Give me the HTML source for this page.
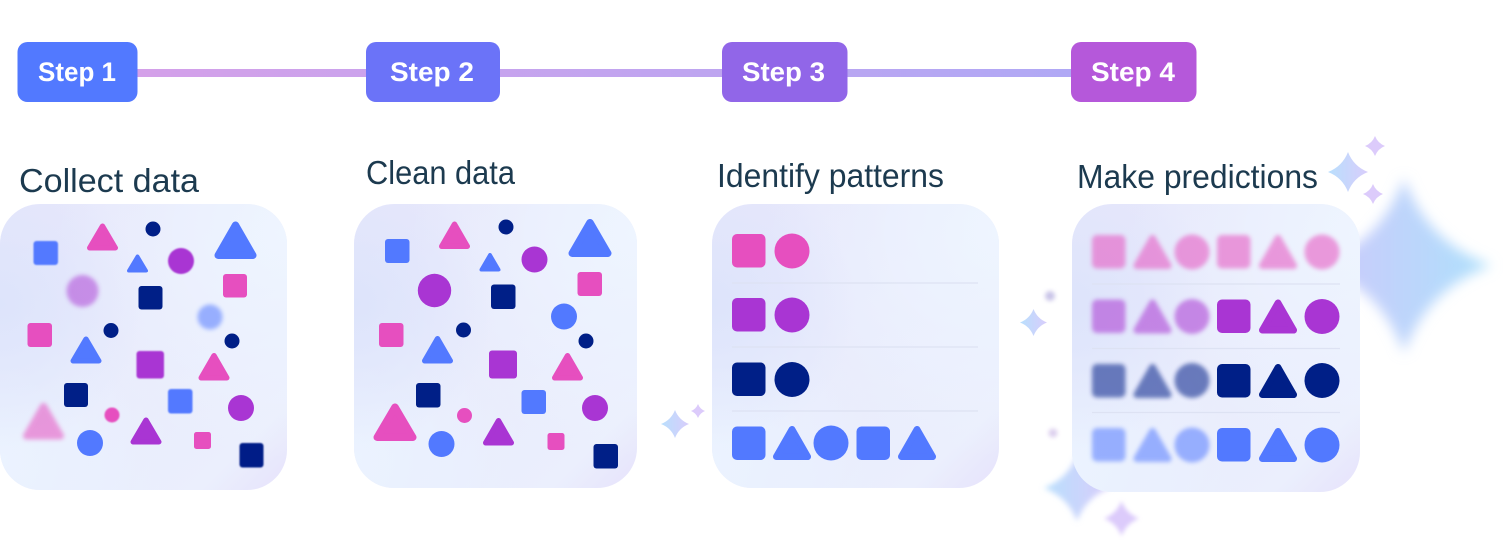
<!DOCTYPE html>
<html><head><meta charset="utf-8">
<style>
html,body{margin:0;padding:0;background:#fff;width:1504px;height:553px;overflow:hidden}
svg{display:block}
.pk{fill:#e64fbf;color:#e64fbf}.pu{fill:#a935d3;color:#a935d3}.nv{fill:#001f87;color:#001f87}.bl{fill:#5279ff;color:#5279ff}
.st{font:700 27px "Liberation Sans",sans-serif;fill:#fff}
.hd{font:400 33.500px "Liberation Sans",sans-serif;fill:#1c3a4f}
.ln{stroke:#dde2f3;stroke-width:1.2}
</style></head><body>
<svg width="1504" height="553" viewBox="0 0 1504 553" xmlns="http://www.w3.org/2000/svg">
<defs>
<symbol id="t" viewBox="0 0 40 36" preserveAspectRatio="none"><polygon points="20,3.500 36.500,32.500 3.500,32.500" fill="currentColor" stroke="currentColor" stroke-width="7" stroke-linejoin="round"/></symbol>
<symbol id="s" viewBox="-1 -1 2 2" overflow="visible"><path d="M0-1Q.28-.28 1 0Q.28.28 0 1Q-.28.28-1 0Q-.28-.28 0-1Z" fill="url(#sg)"/></symbol>
<symbol id="s2" viewBox="-1 -1 2 2" overflow="visible"><path d="M0-1Q.28-.28 1 0Q.28.28 0 1Q-.28.28-1 0Q-.28-.28 0-1Z" fill="#dccbfb"/></symbol>
<symbol id="s3" viewBox="-1 -1 2 2" overflow="visible"><path d="M0-1Q.26-.26 1 0Q.26.26 0 1Q-.26.26-1 0Q-.26-.26 0-1Z" fill="url(#sb)"/></symbol>
<linearGradient id="sg" x1="0" y1="0" x2="1" y2="0"><stop offset="0" stop-color="#b9dffd"/><stop offset="1" stop-color="#d8cdfb"/></linearGradient>
<linearGradient id="sb" x1="0" y1="0" x2="1" y2="0"><stop offset="0" stop-color="#cdc9fb"/><stop offset="1" stop-color="#aee0fc"/></linearGradient>
<linearGradient id="cg" x1="0" y1="0" x2="1" y2="1"><stop offset="0" stop-color="#e6e6fb"/><stop offset=".85" stop-color="#ebeffd"/><stop offset="1" stop-color="#e6e2fb"/></linearGradient>
<radialGradient id="tr" cx="1" cy="0.1" r=".8"><stop offset="0" stop-color="#eef5ff"/><stop offset="1" stop-color="#eef5ff" stop-opacity="0"/></radialGradient>
<radialGradient id="bl" cx="0" cy=".9" r=".6"><stop offset="0" stop-color="#ebf3ff"/><stop offset="1" stop-color="#ebf3ff" stop-opacity="0"/></radialGradient>
<radialGradient id="lf" cx="0" cy=".35" r=".5"><stop offset="0" stop-color="#dde4fb"/><stop offset="1" stop-color="#dde4fb" stop-opacity="0"/></radialGradient>
<linearGradient id="conn" gradientUnits="userSpaceOnUse" x1="137" y1="0" x2="1071" y2="0"><stop offset="0" stop-color="#d4a0e9"/><stop offset="1" stop-color="#b0a8f5"/></linearGradient>
<filter id="b1" x="-30%" y="-30%" width="160%" height="160%"><feGaussianBlur stdDeviation=".9"/></filter>
<filter id="b2" x="-40%" y="-40%" width="180%" height="180%"><feGaussianBlur stdDeviation="2"/></filter>
<filter id="b3" x="-40%" y="-40%" width="180%" height="180%"><feGaussianBlur stdDeviation="3"/></filter>
<filter id="b7" x="-40%" y="-40%" width="180%" height="180%"><feGaussianBlur stdDeviation="6.500"/></filter>
</defs>

<!-- connectors -->
<rect x="130" y="69" width="950" height="8" fill="url(#conn)"/>
<!-- steps -->
<rect x="17.500" y="42" width="120" height="60" rx="10" fill="#5279ff"/>
<rect x="366" y="42" width="134" height="60" rx="10" fill="#6b73f8"/>
<rect x="722" y="42" width="125.500" height="60" rx="10" fill="#9166e8"/>
<rect x="1071" y="42" width="125.500" height="60" rx="10" fill="#b558da"/>
<text class="st" x="38" y="81" textLength="78" lengthAdjust="spacingAndGlyphs">Step 1</text>
<text class="st" x="390" y="81" textLength="84" lengthAdjust="spacingAndGlyphs">Step 2</text>
<text class="st" x="742" y="81" textLength="83" lengthAdjust="spacingAndGlyphs">Step 3</text>
<text class="st" x="1091" y="81" textLength="84" lengthAdjust="spacingAndGlyphs">Step 4</text>
<!-- headings -->
<text class="hd" x="19" y="192" textLength="180" lengthAdjust="spacingAndGlyphs">Collect data</text>
<text class="hd" x="366" y="184" textLength="149" lengthAdjust="spacingAndGlyphs">Clean data</text>
<text class="hd" x="717" y="187" textLength="227" lengthAdjust="spacingAndGlyphs">Identify patterns</text>
<text class="hd" x="1077" y="188" textLength="241" lengthAdjust="spacingAndGlyphs">Make predictions</text>

<!-- sparkles behind -->
<use href="#s3" x="1312" y="178" width="184" height="175" filter="url(#b7)"/>
<use href="#s" x="1328" y="152" width="40" height="40"/>
<use href="#s2" x="1365" y="135" width="20" height="22"/>
<use href="#s2" x="1363" y="183" width="20" height="22"/>
<use href="#s" x="1020" y="309" width="27" height="27"/>
<use href="#s" x="661" y="410" width="28" height="28"/>
<use href="#s2" x="691" y="404" width="14" height="14"/>
<circle cx="1050" cy="296" r="5" fill="#c9c4e8" filter="url(#b2)"/>
<circle cx="1053" cy="433" r="4.500" fill="#dccfee" filter="url(#b2)"/>
<use href="#s" x="1044" y="455" width="66" height="66" filter="url(#b3)"/>
<use href="#s2" x="1104" y="501" width="35" height="35" filter="url(#b2)"/>

<!-- card backgrounds -->
<g>
<rect x="0" y="204" width="287" height="286" rx="40" fill="url(#cg)"/><rect x="0" y="204" width="287" height="286" rx="40" fill="url(#tr)"/><rect x="0" y="204" width="287" height="286" rx="40" fill="url(#bl)"/><rect x="0" y="204" width="287" height="286" rx="40" fill="url(#lf)"/>
<rect x="354" y="204" width="283" height="284" rx="40" fill="url(#cg)"/><rect x="354" y="204" width="283" height="284" rx="40" fill="url(#tr)"/><rect x="354" y="204" width="283" height="284" rx="40" fill="url(#bl)"/><rect x="354" y="204" width="283" height="284" rx="40" fill="url(#lf)"/>
<rect x="712" y="204" width="287" height="284" rx="40" fill="url(#cg)"/><rect x="712" y="204" width="287" height="284" rx="40" fill="url(#tr)"/><rect x="712" y="204" width="287" height="284" rx="40" fill="url(#bl)"/><rect x="712" y="204" width="287" height="284" rx="40" fill="url(#lf)"/>
<rect x="1072" y="204" width="288" height="288" rx="40" fill="url(#cg)"/><rect x="1072" y="204" width="288" height="288" rx="40" fill="url(#tr)"/><rect x="1072" y="204" width="288" height="288" rx="40" fill="url(#bl)"/><rect x="1072" y="204" width="288" height="288" rx="40" fill="url(#lf)"/>
</g>

<!-- card 1 -->
<rect class="bl" x="33.500" y="241" width="24.500" height="24" rx="3" filter="url(#b1)"/>
<use href="#t" class="pk" x="87" y="223.500" width="31" height="27"/>
<circle class="nv" cx="153" cy="229" r="7.500"/>
<use href="#t" class="bl" x="214.500" y="221.500" width="42" height="37.500"/>
<use href="#t" class="bl" x="127" y="254.500" width="21" height="18"/>
<circle class="pu" cx="181" cy="261" r="13" filter="url(#b1)"/>
<circle class="pu" cx="82.500" cy="291" r="16" opacity=".5" filter="url(#b2)"/>
<rect class="pk" x="223" y="274" width="24" height="23.500" rx="3"/>
<rect class="nv" x="138.500" y="286" width="24" height="23.500" rx="3"/>
<circle class="bl" cx="210" cy="317" r="12.500" opacity=".55" filter="url(#b2)"/>
<rect class="pk" x="27.500" y="323" width="24.500" height="24" rx="3"/>
<circle class="nv" cx="111" cy="330.500" r="7.500"/>
<circle class="nv" cx="232" cy="341" r="7.500"/>
<use href="#t" class="bl" x="70.500" y="336.500" width="31" height="27"/>
<rect class="pu" x="136.500" y="351" width="27.500" height="27.500" rx="3" filter="url(#b1)"/>
<use href="#t" class="pk" x="198.500" y="353" width="31" height="27.500"/>
<rect class="nv" x="64" y="383" width="24" height="24" rx="3"/>
<rect class="bl" x="168" y="389" width="24.500" height="24.500" rx="3" filter="url(#b1)"/>
<circle class="pu" cx="241" cy="408" r="13"/>
<circle class="pk" cx="112" cy="415" r="7.500" filter="url(#b1)"/>
<use href="#t" class="pk" x="23" y="403" width="41" height="36.500" opacity=".55" filter="url(#b2)"/>
<use href="#t" class="pu" x="130.500" y="417.500" width="31" height="27"/>
<circle class="bl" cx="90" cy="443" r="13"/>
<rect class="pk" x="194" y="432" width="17" height="17" rx="2.500"/>
<rect class="nv" x="239.500" y="443" width="24" height="24.500" rx="3" filter="url(#b1)"/>

<!-- card 2 -->
<rect class="bl" x="385" y="239" width="24.500" height="24" rx="3"/>
<use href="#t" class="pk" x="439" y="221.500" width="31" height="27.500"/>
<circle class="nv" cx="506" cy="227" r="7.500"/>
<use href="#t" class="bl" x="568.500" y="219" width="43" height="38"/>
<use href="#t" class="bl" x="479.500" y="253" width="21" height="18.500"/>
<circle class="pu" cx="534.500" cy="259.500" r="13"/>
<circle class="pu" cx="434.500" cy="290.500" r="16.700"/>
<rect class="pk" x="577.500" y="272" width="24.500" height="24" rx="3"/>
<rect class="nv" x="491" y="284.500" width="24.500" height="24.500" rx="3"/>
<circle class="bl" cx="564" cy="316.500" r="13"/>
<rect class="pk" x="379" y="323" width="24.500" height="24" rx="3"/>
<circle class="nv" cx="463.500" cy="330" r="7.500"/>
<circle class="nv" cx="586" cy="341" r="7.500"/>
<use href="#t" class="bl" x="422" y="336" width="31" height="27.500"/>
<rect class="pu" x="489" y="350.500" width="28" height="28" rx="3"/>
<use href="#t" class="pk" x="552" y="353" width="31" height="27.500"/>
<rect class="nv" x="416" y="383" width="24.500" height="24.500" rx="3"/>
<rect class="bl" x="521.500" y="390" width="24.500" height="24" rx="3"/>
<circle class="pu" cx="595" cy="408" r="13"/>
<circle class="pk" cx="464.500" cy="415.500" r="7.500"/>
<use href="#t" class="pk" x="373.500" y="403.500" width="43" height="37.500"/>
<use href="#t" class="pu" x="483" y="418" width="31" height="27.500"/>
<circle class="bl" cx="441.500" cy="444" r="13"/>
<rect class="pk" x="547.500" y="433" width="17" height="17" rx="2.500"/>
<rect class="nv" x="593.500" y="444" width="24.500" height="24.500" rx="3"/>

<!-- card 3 -->
<line class="ln" x1="732" y1="283" x2="978" y2="283"/>
<line class="ln" x1="732" y1="347" x2="978" y2="347"/>
<line class="ln" x1="732" y1="411" x2="978" y2="411"/>
<rect class="pk" x="732" y="234" width="33.500" height="33.500" rx="5"/><circle class="pk" cx="792" cy="251" r="17.500"/>
<rect class="pu" x="732" y="298" width="33.500" height="33.500" rx="5"/><circle class="pu" cx="792" cy="315" r="17.500"/>
<rect class="nv" x="732" y="362.500" width="33.500" height="33.500" rx="5"/><circle class="nv" cx="792" cy="379.500" r="17.500"/>
<rect class="bl" x="732" y="426.500" width="33.500" height="33.500" rx="5"/>
<use href="#t" class="bl" x="773" y="426" width="38" height="34"/>
<circle class="bl" cx="831" cy="443" r="17.500"/>
<rect class="bl" x="856.500" y="426.500" width="33.500" height="33.500" rx="5"/>
<use href="#t" class="bl" x="898" y="426" width="38" height="34"/>

<!-- card 4 -->
<line class="ln" x1="1092" y1="284" x2="1340" y2="284"/>
<line class="ln" x1="1092" y1="348.500" x2="1340" y2="348.500"/>
<line class="ln" x1="1092" y1="412.500" x2="1340" y2="412.500"/>
<g opacity=".55" filter="url(#b2)">
<rect class="pk" x="1092" y="235" width="33.500" height="33.500" rx="5"/><use href="#t" class="pk" x="1133.500" y="235" width="38" height="34"/><circle class="pk" cx="1192" cy="252" r="17.500"/><rect class="pk" x="1217" y="235" width="33.500" height="33.500" rx="5"/><use href="#t" class="pk" x="1259" y="235" width="38" height="34"/><circle class="pk" cx="1322" cy="252" r="17.500"/>
<rect class="pu" x="1092" y="299.500" width="33.500" height="33.500" rx="5"/><use href="#t" class="pu" x="1133.500" y="299.500" width="38" height="34"/><circle class="pu" cx="1192" cy="316.500" r="17.500"/>
<rect class="nv" x="1092" y="364" width="33.500" height="33.500" rx="5"/><use href="#t" class="nv" x="1133.500" y="364" width="38" height="34"/><circle class="nv" cx="1192" cy="380.500" r="17.500"/>
<rect class="bl" x="1092" y="428" width="33.500" height="33.500" rx="5"/><use href="#t" class="bl" x="1133.500" y="428" width="38" height="34"/><circle class="bl" cx="1192" cy="445" r="17.500"/>
</g>
<rect class="pu" x="1217" y="299.500" width="33.500" height="33.500" rx="5"/><use href="#t" class="pu" x="1259" y="299.500" width="38" height="34"/><circle class="pu" cx="1322" cy="316.500" r="17.500"/>
<rect class="nv" x="1217" y="364" width="33.500" height="33.500" rx="5"/><use href="#t" class="nv" x="1259" y="364" width="38" height="34"/><circle class="nv" cx="1322" cy="380.500" r="17.500"/>
<rect class="bl" x="1217" y="428" width="33.500" height="33.500" rx="5"/><use href="#t" class="bl" x="1259" y="428" width="38" height="34"/><circle class="bl" cx="1322" cy="445" r="17.500"/>
</svg>
</body></html>
